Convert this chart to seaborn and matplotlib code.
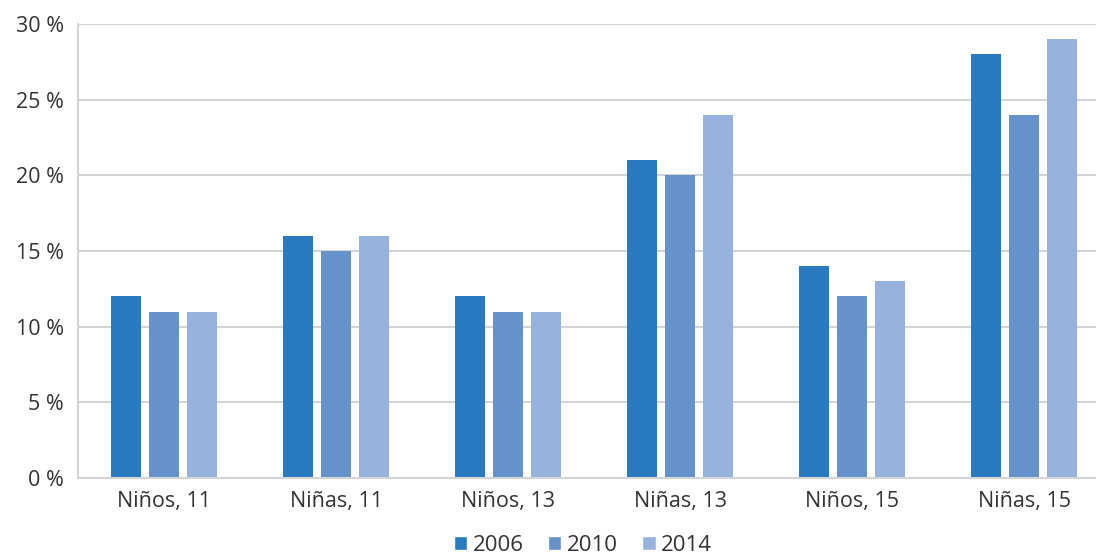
import matplotlib
matplotlib.use("Agg")
import matplotlib.pyplot as plt
import seaborn as sns
import pandas as pd
from matplotlib.patches import Patch

categories = ["Niños, 11", "Niñas, 11", "Niños, 13", "Niñas, 13", "Niños, 15", "Niñas, 15"]
years = ["2006", "2010", "2014"]
v2006 = [12, 16, 12, 21, 14, 28]
v2010 = [11, 15, 11, 20, 12, 24]
v2014 = [11, 16, 11, 24, 13, 29]
yticks = [0, 5, 10, 15, 20, 25, 30]
colors = ["#2a7abf", "#6592cb", "#97b2dd"]

rows = []
for y, vals in zip(years, [v2006, v2010, v2014]):
    for c, v in zip(categories, vals):
        rows.append({"cat": c, "year": y, "val": v})
df = pd.DataFrame(rows)

sns.set_style("white")
plt.rcParams["font.family"] = ["Open Sans", "DejaVu Sans"]

fig = plt.figure(figsize=(10.96, 5.6), dpi=100)
ax = fig.add_axes([0.0712, 0.1464, 0.9416, 0.8106])
sns.barplot(data=df, x="cat", y="val", hue="year", palette=colors,
            width=0.66, gap=0.2, ax=ax, legend=False, saturation=1,
            edgecolor="none")
ax.set_ylim(0, 30)
ax.set_xlim(-0.5, 5.5)
ax.set_yticks(yticks)
ax.set_yticklabels([f"{t} %" for t in yticks])
ax.yaxis.grid(True, color="#d4d4d4", linewidth=1.5)
ax.set_axisbelow(True)
for s in ["top", "right"]:
    ax.spines[s].set_visible(False)
for s in ["left", "bottom"]:
    ax.spines[s].set_color("#d4d4d4")
    ax.spines[s].set_linewidth(1.5)
ax.tick_params(axis="y", length=0, labelsize=15.5, colors="#333333", pad=10)
ax.tick_params(axis="x", length=0, labelsize=15.5, colors="#333333", pad=9)
ax.set_xlabel("")
ax.set_ylabel("")

handles = [Patch(facecolor=c, label=y) for c, y in zip(colors, years)]
fig.legend(handles=handles, loc="lower center", bbox_to_anchor=(0.532, -0.028), ncol=3,
           frameon=False, fontsize=16, handlelength=0.6, handleheight=0.6,
           handletextpad=0.25, columnspacing=1.1, labelcolor="#333333")

fig.savefig("out.png", dpi=100)
